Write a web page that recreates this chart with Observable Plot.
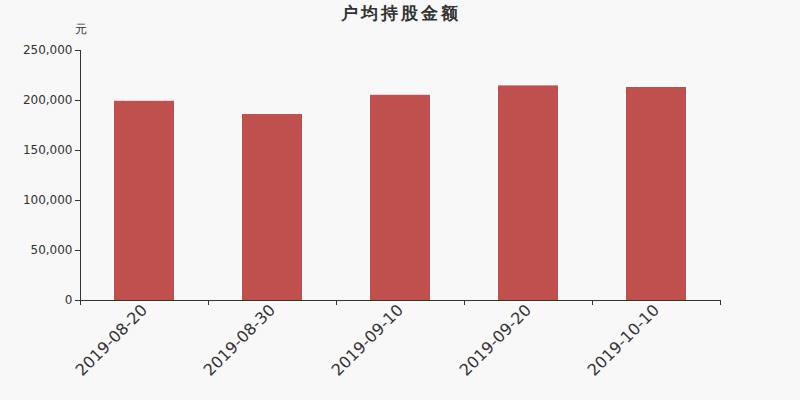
<!DOCTYPE html>
<html>
<head>
<meta charset="utf-8">
<script src="https://cdn.jsdelivr.net/npm/d3@7"></script>
<script src="https://cdn.jsdelivr.net/npm/@observablehq/plot@0.6"></script>
<style>
  html, body { margin: 0; padding: 0; background: #f8f8f8; }
  #chart { width: 800px; height: 400px; }
  svg { font-family: "DejaVu Sans", sans-serif; }
  .title-text text { letter-spacing: 3px; }
</style>
</head>
<body>
<div id="chart"></div>
<script>
const title = "户均持股金额";
const unit = "元";
const dates = ["2019-08-20", "2019-08-30", "2019-09-10", "2019-09-20", "2019-10-10"];
const values = [199200, 186000, 205200, 214600, 213000];
const yTicks = [0, 50000, 100000, 150000, 200000, 250000];

const data = dates.map((d, i) => ({date: d, value: values[i]}));
const step = 640 / dates.length;

const chart = Plot.plot({
  width: 800,
  height: 400,
  marginTop: 50,
  marginBottom: 100,
  marginLeft: 80,
  marginRight: 80,
  style: {background: "#f8f8f8", color: "#333", fontFamily: "DejaVu Sans, sans-serif"},
  x: {domain: dates, paddingInner: 0.53, paddingOuter: 0.265, label: null},
  y: {domain: [0, 250000], label: null},
  marks: [
    Plot.barY(data, {x: "date", y: "value", fill: "#c0504d"}),
    Plot.axisY({ticks: yTicks, tickFormat: d3.format(","), tickSize: 5, tickPadding: 3, fontSize: 12, stroke: "#333", fill: "#333", label: null}),
    Plot.axisX({tickSize: 5, tickFormat: () => "", dx: -step / 2, stroke: "#333", label: null}),
    Plot.axisX([dates[dates.length - 1]], {tickSize: 5, tickFormat: () => "", dx: step / 2, stroke: "#333", label: null}),
    Plot.axisX({tickSize: 0, tickPadding: 7, tickRotate: -45, fontSize: 16, fill: "#333", label: null}),
    Plot.frame({anchor: "left", stroke: "#333"}),
    Plot.frame({anchor: "bottom", stroke: "#333"}),
    Plot.text([title], {frameAnchor: "top", lineAnchor: "middle", dy: -37, fontSize: 17, fontWeight: "bold", fill: "#333", className: "title-text"}),
    Plot.text([unit], {frameAnchor: "top-left", lineAnchor: "middle", textAnchor: "middle", dy: -21, fontSize: 12, fill: "#333"})
  ]
});
document.getElementById("chart").appendChild(chart);
</script>
</body>
</html>
